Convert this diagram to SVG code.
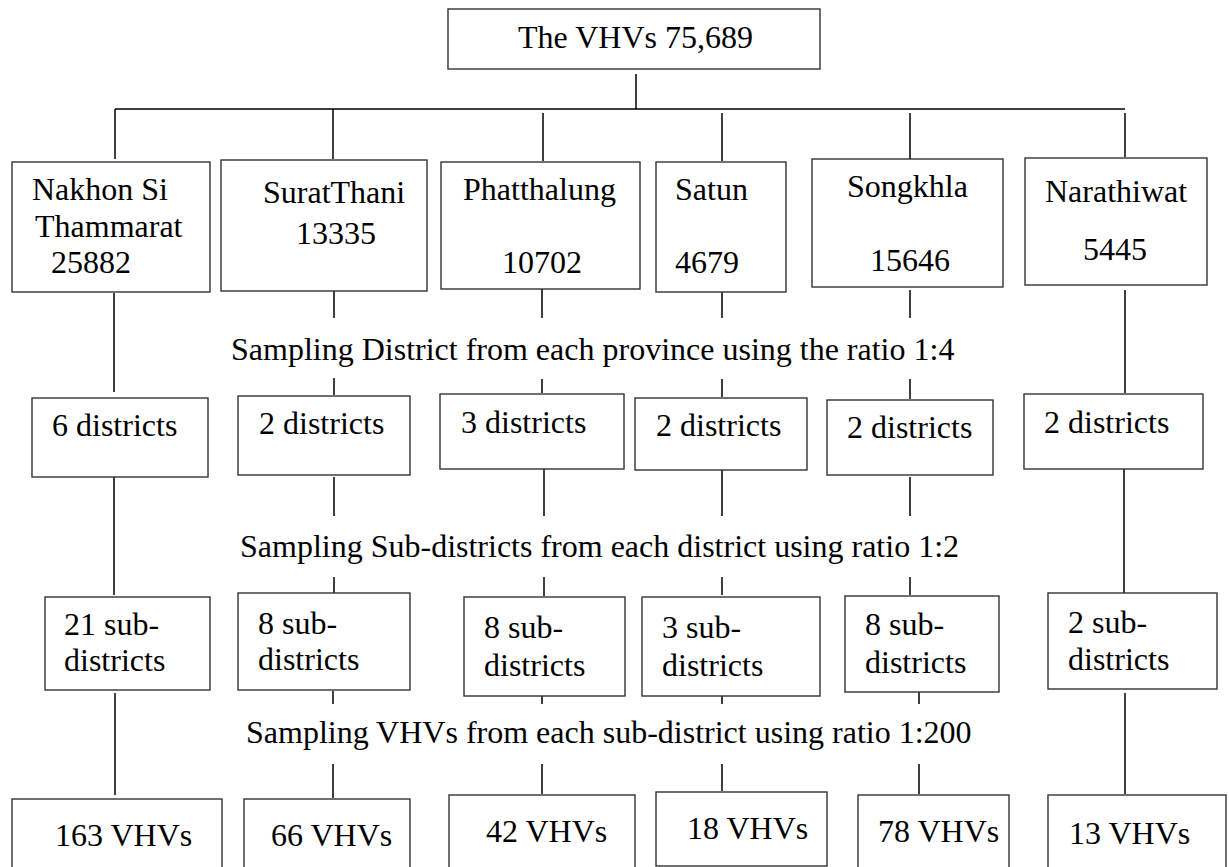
<svg xmlns="http://www.w3.org/2000/svg" width="1229" height="867" viewBox="0 0 1229 867">
<style>
.box{fill:#fff;stroke:#333;stroke-width:1.4}
.ln{stroke:#000;stroke-width:1.5;fill:none}
text{font-family:"Liberation Serif","Times New Roman",serif;font-size:32px;fill:#000}
</style>
<rect width="1229" height="867" fill="#fff"/>
<g id="connectors">
<path class="ln" d="M636 74V109M115 109H1125M115 109V159M333 109V159M543 113V161M722 113V161M910 113V159M1125 113V157"/>
<path class="ln" d="M114 293V392M334 288V318M334 378V395M542 288V318M542 379V393M722 292V318M722 379V397M910 290V318M910 379V399M1125 290V393"/>
<path class="ln" d="M114 477V595M334 477V516M334 577V593M544 469V516M544 577V596M722 470V516M722 577V595M910 477V516M910 577V595M1124 469V593"/>
<path class="ln" d="M115 693V795M333 691V704M333 764V798M542 696V704M542 764V794M722 696V704M722 764V791M919 691V704M919 764V794M1125 693V794"/>
</g>
<g id="root"><rect class="box" x="448" y="9" width="372" height="60"/><text x="518" y="48">The VHVs 75,689</text></g>
<g id="p-nakhon"><rect class="box" x="12" y="162" width="198" height="130"/><text x="32" y="200">Nakhon Si</text><text x="35" y="237">Thammarat</text><text x="51" y="273">25882</text></g>
<g id="p-surat"><rect class="box" x="221" y="160" width="206" height="131"/><text x="263" y="203">SuratThani</text><text x="296" y="244">13335</text></g>
<g id="p-phatthalung"><rect class="box" x="441" y="162" width="199" height="127"/><text x="463" y="200">Phatthalung</text><text x="502" y="273">10702</text></g>
<g id="p-satun"><rect class="box" x="656" y="162" width="130" height="130"/><text x="675" y="200">Satun</text><text x="675" y="273">4679</text></g>
<g id="p-songkhla"><rect class="box" x="812" y="159" width="191" height="128"/><text x="847" y="197">Songkhla</text><text x="870" y="271">15646</text></g>
<g id="p-narathiwat"><rect class="box" x="1025" y="158" width="182" height="127"/><text x="1045" y="202">Narathiwat</text><text x="1083" y="260">5445</text></g>
<g id="label-1"><text x="231" y="360">Sampling District from each province using the ratio 1:4</text></g>
<g id="d-nakhon"><rect class="box" x="32" y="398" width="176" height="79"/><text x="52" y="436">6 districts</text></g>
<g id="d-surat"><rect class="box" x="238" y="396" width="172" height="79"/><text x="259" y="434">2 districts</text></g>
<g id="d-phatthalung"><rect class="box" x="440" y="394" width="184" height="75"/><text x="461" y="433">3 districts</text></g>
<g id="d-satun"><rect class="box" x="635" y="398" width="172" height="72"/><text x="656" y="436">2 districts</text></g>
<g id="d-songkhla"><rect class="box" x="827" y="400" width="166" height="75"/><text x="847" y="438">2 districts</text></g>
<g id="d-narathiwat"><rect class="box" x="1024" y="394" width="179" height="75"/><text x="1044" y="433">2 districts</text></g>
<g id="label-2"><text x="240" y="557">Sampling Sub-districts from each district using ratio 1:2</text></g>
<g id="s-nakhon"><rect class="box" x="45" y="597" width="165" height="93"/><text x="64" y="635">21 sub-</text><text x="64" y="671">districts</text></g>
<g id="s-surat"><rect class="box" x="238" y="593" width="172" height="97"/><text x="258" y="634">8 sub-</text><text x="258" y="670">districts</text></g>
<g id="s-phatthalung"><rect class="box" x="464" y="597" width="161" height="99"/><text x="484" y="638">8 sub-</text><text x="484" y="676">districts</text></g>
<g id="s-satun"><rect class="box" x="642" y="597" width="178" height="99"/><text x="662" y="638">3 sub-</text><text x="662" y="676">districts</text></g>
<g id="s-songkhla"><rect class="box" x="845" y="596" width="154" height="96"/><text x="865" y="635">8 sub-</text><text x="865" y="673">districts</text></g>
<g id="s-narathiwat"><rect class="box" x="1048" y="593" width="169" height="96"/><text x="1068" y="633">2 sub-</text><text x="1068" y="670">districts</text></g>
<g id="label-3"><text x="246" y="743">Sampling VHVs from each sub-district using ratio 1:200</text></g>
<g id="v-nakhon"><rect class="box" x="12" y="799" width="210" height="75"/><text x="55" y="846">163 VHVs</text></g>
<g id="v-surat"><rect class="box" x="244" y="799" width="166" height="75"/><text x="271" y="846">66 VHVs</text></g>
<g id="v-phatthalung"><rect class="box" x="449" y="795" width="186" height="79"/><text x="486" y="842">42 VHVs</text></g>
<g id="v-satun"><rect class="box" x="656" y="792" width="171" height="74"/><text x="687" y="839">18 VHVs</text></g>
<g id="v-songkhla"><rect class="box" x="858" y="795" width="151" height="79"/><text x="878" y="842">78 VHVs</text></g>
<g id="v-narathiwat"><rect class="box" x="1048" y="795" width="178" height="79"/><text x="1069" y="844">13 VHVs</text></g>
</svg>
